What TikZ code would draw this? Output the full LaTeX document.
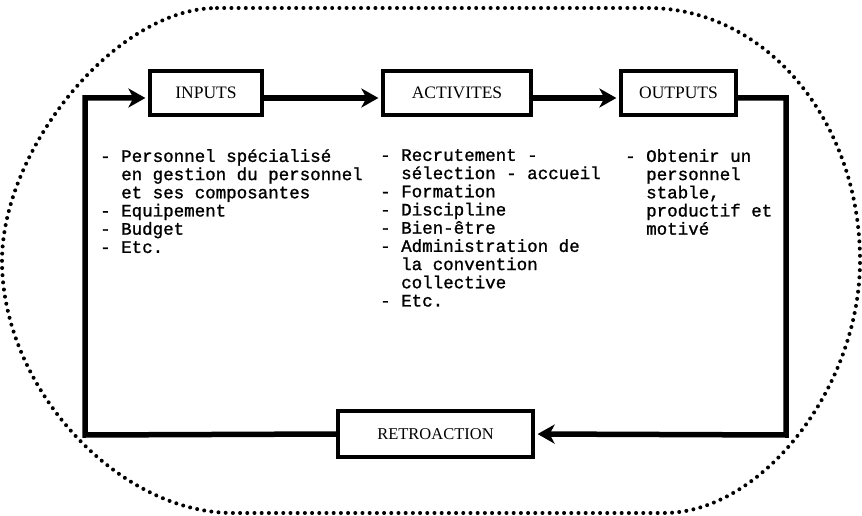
\documentclass[tikz,border=0pt]{standalone}
\usepackage{fontspec}
\setmainfont{Liberation Serif}
\newfontfamily\tw[FakeBold=1.2]{Liberation Mono}
\usetikzlibrary{arrows.meta}
\begin{document}
\begin{tikzpicture}[x=1pt,y=-1pt,
  boxlbl/.style={draw,line width=3.2pt,inner sep=0pt,font=\fontsize{17.5}{18}\selectfont},
  flow/.style={line width=5.5pt,-{Stealth[length=17pt,width=19pt,inset=5pt]},shorten >=3pt},
  listtxt/.style={anchor=north west,inner sep=0pt,align=left,font=\tw\fontsize{17.5}{18.2}\selectfont},
  oval/.style={line width=4pt,line cap=round,dash pattern=on 0pt off 7.2pt}]
\useasboundingbox (0,0) rectangle (862,516);
% dotted envelope
\draw[oval] (217,8) -- (648,8)
  .. controls (766,8) and (860,121) .. (860,261)
  .. controls (860,387) and (762,513) .. (664,513)
  -- (233,513)
  .. controls (117,513) and (2,387) .. (2,261)
  .. controls (2,150) and (115,8) .. (217,8);
% boxes
\node[boxlbl,minimum width=112pt,minimum height=44pt] (inp) at (206,93) {INPUTS};
\node[boxlbl,minimum width=148pt,minimum height=44pt] (act) at (457,93) {ACTIVITES};
\node[boxlbl,minimum width=115pt,minimum height=44pt] (out) at (678.5,93) {OUTPUTS};
\node[boxlbl,minimum width=195pt,minimum height=46pt,font=\fontsize{16.5}{18}\selectfont] (ret) at (435.5,434) {RETROACTION};
% connectors
\draw[flow] ([yshift=-5pt]inp.east) -- ([yshift=-5pt]act.west);
\draw[flow] ([yshift=-5pt]act.east) -- ([yshift=-5pt]out.west);
\coordinate (c1) at (786,98);
\coordinate (c2) at (786,435);
\coordinate (c3) at (85,435);
\coordinate (c4) at (85,98);
\draw[flow] ([yshift=-5pt]out.east) -- (c1) -- (c2) -- (ret.east);
\draw[flow] (ret.west) -- (c3) -- (c4) -- ([yshift=-5pt]inp.west);
% lists
\node[listtxt] (l1) at (100,149) {- Personnel spécialisé\\
\phantom{- }en gestion du personnel\\
\phantom{- }et ses composantes\\
- Equipement\\
- Budget\\
- Etc.};
\node[listtxt] (l2) at (380,149) {- Recrutement -\\
\phantom{- }sélection - accueil\\
- Formation\\
- Discipline\\
- Bien-être\\
- Administration de\\
\phantom{- }la convention\\
\phantom{- }collective\\
- Etc.};
\node[listtxt] (l3) at (625,149) {- Obtenir un\\
\phantom{- }personnel\\
\phantom{- }stable,\\
\phantom{- }productif et\\
\phantom{- }motivé};
\end{tikzpicture}
\end{document}
